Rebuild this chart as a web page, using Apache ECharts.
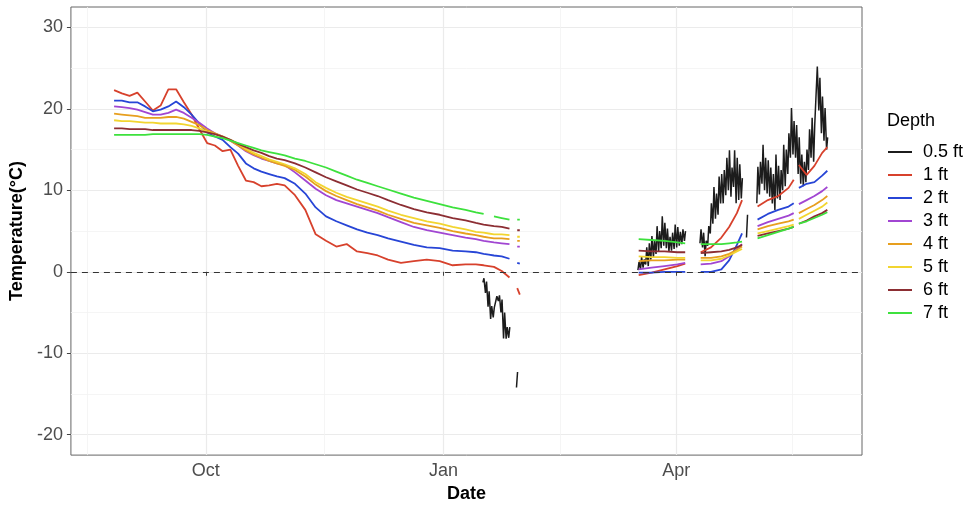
<!DOCTYPE html>
<html><head><meta charset="utf-8">
<script src="https://cdn.jsdelivr.net/npm/echarts@6/dist/echarts.min.js"></script>
<style>html,body{margin:0;padding:0;background:#fff}#c{width:969px;height:508px}</style>
</head><body><div id="c"></div>
<script>
// ---- data ----
const dates = [
 '2018-08-26','2018-08-29','2018-09-01','2018-09-04','2018-09-07','2018-09-10','2018-09-13','2018-09-16','2018-09-19','2018-09-22','2018-09-25','2018-09-28','2018-10-01','2018-10-04','2018-10-07','2018-10-10','2018-10-13','2018-10-16','2018-10-19','2018-10-22','2018-10-25','2018-10-28','2018-10-31',
 '2018-11-04','2018-11-08','2018-11-12','2018-11-16','2018-11-20','2018-11-24','2018-11-28','2018-12-02','2018-12-06','2018-12-10',
 '2018-12-15','2018-12-20','2018-12-25','2018-12-30','2019-01-04','2019-01-09',
 '2019-01-13','2019-01-16','2019-01-18','2019-01-20','2019-01-23','2019-01-26','2019-01-27','2019-01-29','2019-01-30',
 '2019-02-18',
 '2019-03-17','2019-03-22','2019-03-27','2019-04-01','2019-04-04',
 '2019-04-07',
 '2019-04-10','2019-04-14','2019-04-18','2019-04-21','2019-04-24','2019-04-26',
 '2019-04-29',
 '2019-05-02','2019-05-06','2019-05-10','2019-05-14','2019-05-16',
 '2019-05-17',
 '2019-05-18','2019-05-21','2019-05-24','2019-05-27','2019-05-29'
];
const depth1ft = [
 22.3,21.9,21.6,22.0,20.9,19.8,20.4,22.4,22.4,20.8,19.3,17.5,15.8,15.5,14.8,15.0,13.0,11.2,11.0,10.5,10.6,10.8,10.6,
 9.4,7.6,4.6,3.8,3.1,3.4,2.5,2.3,2.0,1.5,
 1.1,1.3,1.5,1.3,0.8,0.9,
 0.9,0.8,0.7,0.6,0.1,-0.7,null,-2.0,-2.8,
 null,
 -0.4,-0.1,0.3,0.7,1.0,
 null,
 2.4,3.0,4.2,5.5,7.2,8.8,
 null,
 8.0,8.8,9.3,10.3,11.3,
 null,
 13.1,11.9,13.0,14.6,15.3
];
const depth2ft = [
 21.0,21.0,20.8,20.8,20.3,19.7,19.9,20.3,20.9,20.2,19.3,18.2,17.1,16.6,16.2,15.3,14.5,13.3,12.7,12.3,12.0,11.7,11.5,
 10.8,9.6,7.9,6.8,6.2,5.7,5.2,4.8,4.5,4.1,
 3.7,3.3,3.0,2.9,2.6,2.5,
 2.4,2.2,2.1,2.0,1.9,1.6,null,1.1,1.0,
 null,
 -0.1,-0.1,0.0,0.0,0.0,
 null,
 0.0,0.0,0.3,1.4,3.3,4.7,
 null,
 6.4,7.1,7.6,8.0,8.4,
 null,
 10.3,10.8,11.0,11.8,12.4
];
const depth3ft = [
 20.3,20.2,20.1,19.9,19.6,19.3,19.3,19.5,19.9,19.5,18.9,18.3,17.6,17.0,16.6,16.1,15.5,14.8,14.3,13.9,13.6,13.3,13.1,
 12.2,11.2,10.2,9.4,8.8,8.4,8.0,7.6,7.2,6.7,
 6.1,5.5,5.1,4.8,4.5,4.2,
 4.0,3.8,3.7,3.6,3.5,3.4,null,3.1,3.1,
 null,
 0.3,0.5,0.7,0.9,1.1,
 null,
 0.9,1.0,1.3,1.9,2.8,3.4,
 null,
 5.6,6.1,6.5,6.9,7.2,
 null,
 8.3,8.8,9.3,9.9,10.4
];
const depth4ft = [
 19.4,19.3,19.2,19.1,18.9,18.9,18.9,19.0,19.0,18.8,18.4,18.0,17.4,17.0,16.6,16.1,15.5,14.9,14.4,14.0,13.6,13.3,13.0,
 12.5,11.7,10.7,9.9,9.3,8.8,8.3,7.9,7.5,7.0,
 6.5,6.0,5.7,5.4,5.0,4.7,
 4.5,4.3,4.2,4.1,4.1,4.0,null,3.8,3.8,
 null,
 1.3,1.4,1.4,1.5,1.5,
 null,
 1.7,1.7,1.9,2.2,2.7,3.1,
 null,
 5.2,5.6,5.9,6.2,6.4,
 null,
 7.2,7.7,8.2,8.8,9.3
];
const depth5ft = [
 18.6,18.5,18.5,18.4,18.3,18.3,18.2,18.2,18.2,18.1,17.9,17.6,17.2,16.9,16.6,16.2,15.7,15.1,14.6,14.2,13.8,13.5,13.2,
 12.7,12.0,11.0,10.3,9.7,9.2,8.8,8.4,8.0,7.5,
 7.0,6.6,6.2,5.9,5.5,5.2,
 4.9,4.8,4.7,4.6,4.6,4.5,null,4.3,4.3,
 null,
 1.9,1.8,1.8,1.7,1.7,
 null,
 1.4,1.4,1.6,2.0,2.5,2.8,
 null,
 4.7,5.0,5.3,5.6,5.8,
 null,
 6.5,7.0,7.5,8.0,8.5
];
const depth6ft = [
 17.6,17.6,17.5,17.5,17.5,17.4,17.4,17.4,17.4,17.4,17.4,17.3,17.1,16.9,16.6,16.2,15.7,15.3,14.9,14.6,14.2,13.9,13.7,
 13.3,12.8,12.2,11.6,11.1,10.6,10.1,9.7,9.3,8.8,
 8.2,7.7,7.3,7.0,6.6,6.3,
 6.0,5.8,5.7,5.6,5.5,5.3,null,5.1,5.1,
 null,
 2.6,2.5,2.5,2.4,2.4,
 null,
 2.3,2.4,2.5,2.7,3.0,3.3,
 null,
 4.4,4.7,5.0,5.3,5.5,
 null,
 5.9,6.3,6.8,7.2,7.6
];
const depth7ft = [
 16.8,16.8,16.8,16.8,16.8,16.9,16.9,16.9,16.9,16.9,16.9,16.9,16.8,16.6,16.4,16.1,15.8,15.5,15.2,14.9,14.7,14.5,14.3,
 13.9,13.6,13.2,12.8,12.3,11.8,11.3,10.9,10.5,10.1,
 9.6,9.1,8.7,8.3,7.9,7.6,
 7.3,7.1,null,6.8,6.6,6.4,null,6.4,6.4,
 null,
 4.0,3.9,3.8,3.6,3.5,
 null,
 3.4,3.4,3.4,3.5,3.6,3.7,
 null,
 4.1,4.5,4.9,5.3,5.5,
 null,
 5.9,6.2,6.6,7.0,7.3
];
// 0.5 ft: daily low / high (strong daily swing)
const blackDates = [
 '2019-01-16','2019-01-17','2019-01-18','2019-01-19','2019-01-20','2019-01-21','2019-01-22','2019-01-23','2019-01-24','2019-01-25','2019-01-26','2019-01-27',
 '2019-01-29','2019-01-31',
 '2019-03-17','2019-03-18','2019-03-19','2019-03-20','2019-03-21','2019-03-22','2019-03-23','2019-03-24','2019-03-25','2019-03-26','2019-03-27','2019-03-28','2019-03-29','2019-03-30','2019-03-31','2019-04-01','2019-04-02','2019-04-03','2019-04-04','2019-04-07',
 '2019-04-10','2019-04-11','2019-04-12','2019-04-13','2019-04-14','2019-04-15','2019-04-16','2019-04-17','2019-04-18','2019-04-19','2019-04-20','2019-04-21','2019-04-22','2019-04-23','2019-04-24','2019-04-25','2019-04-26','2019-04-27',
 '2019-04-28','2019-04-30',
 '2019-05-02','2019-05-03','2019-05-04','2019-05-05','2019-05-06','2019-05-07','2019-05-08','2019-05-09','2019-05-10','2019-05-11','2019-05-12','2019-05-13','2019-05-14','2019-05-15','2019-05-16','2019-05-17','2019-05-18','2019-05-19','2019-05-20','2019-05-21','2019-05-22','2019-05-23','2019-05-24','2019-05-25','2019-05-26','2019-05-27','2019-05-28','2019-05-29'
];
const blackLow = [
 -1.3,-2.6,-4.3,-5.8,-5.6,-4.6,-3.6,-5.0,-8.2,-8.2,-8.1,null,
 -14.2,null,
 0.2,0.3,0.5,0.9,0.7,1.5,1.8,2.2,2.5,2.9,3.2,2.9,2.5,2.6,2.8,3.0,3.2,3.4,3.8,null,
 3.5,3.0,1.9,3.2,4.7,5.9,6.5,7.0,8.4,8.4,9.4,10.0,9.2,10.4,8.4,8.8,9.0,null,
 4.2,null,
 8.4,9.5,10.8,10.0,9.6,9.2,8.4,7.6,9.0,8.8,10.0,10.5,12.0,14.0,14.4,14.0,12.0,10.8,10.5,11.0,12.5,14.0,13.5,18.0,19.8,17.0,16.1,15.0
];
const blackHigh = [
 -0.8,-1.2,-2.4,-4.2,-4.4,-3.0,-2.9,-3.4,-5.0,-6.8,-6.8,null,
 -12.3,null,
 1.2,1.8,1.5,3.0,3.5,4.4,3.8,5.6,5.0,6.8,6.0,5.3,4.3,4.8,5.8,5.5,4.9,5.2,5.0,null,
 5.2,4.8,3.8,5.6,8.4,10.4,9.6,11.7,12.0,12.5,14.0,14.9,12.8,14.9,14.0,13.2,11.5,null,
 7.0,null,
 12.9,13.5,15.6,14.0,13.7,12.8,12.0,14.4,13.0,12.5,15.6,15.0,17.0,20.1,18.5,18.0,16.5,14.4,13.5,15.0,17.5,18.9,18.0,25.2,23.8,21.5,20.1,16.5
];
const depthNames = ['0.5 ft','1 ft','2 ft','3 ft','4 ft','5 ft','6 ft','7 ft'];
const depthColors = ['#1c1c1c','#D7412C','#2745D6','#A146D2','#E79F1E','#F2D530','#8C2E33','#3DE13D'];
const yTicks = [-20,-10,0,10,20,30];
const yMinor = [-15,-5,5,15,25];
const xTickDates = ['2018-10-01','2019-01-01','2019-04-01'];
const xMinorDates = ['2018-08-16','2018-11-16','2019-02-15','2019-05-16'];
const monthNames = ['Jan','Feb','Mar','Apr','May','Jun','Jul','Aug','Sep','Oct','Nov','Dec'];

// ---- build ----
function ts(s, h) { const p = s.split('-').map(Number); return new Date(p[0], p[1]-1, p[2], h || 0).getTime(); }
const blackData = [];
blackDates.forEach((d, i) => {
  if (blackLow[i] == null) { blackData.push([ts(d, 12), null]); }
  else { blackData.push([ts(d, 5), blackLow[i]]); blackData.push([ts(d, 15), blackHigh[i]]); }
});
const depthArrays = [depth1ft, depth2ft, depth3ft, depth4ft, depth5ft, depth6ft, depth7ft];
const xMin = ts('2018-08-09', 19), xMax = ts('2019-06-11', 22);
const font = 'Liberation Sans, Arial, Helvetica, sans-serif';

const series = [{
  name: depthNames[0], type: 'line', data: blackData, showSymbol: false, symbol: 'none',
  lineStyle: { color: depthColors[0], width: 1.5 }, itemStyle: { color: depthColors[0] }, z: 2
}];
depthArrays.forEach((arr, k) => {
  series.push({
    name: depthNames[k+1], type: 'line', symbol: 'none', showSymbol: false,
    data: dates.map((d, i) => [ts(d, 12), arr[i]]),
    lineStyle: { color: depthColors[k+1], width: 1.8 }, itemStyle: { color: depthColors[k+1] }, z: 3 + k
  });
});
series[series.length - 1].markLine = {
  silent: true, symbol: 'none', label: { show: false },
  lineStyle: { color: '#333', type: [6, 5], width: 1 },
  data: [{ yAxis: 0 }]
};

const chart = echarts.init(document.getElementById('c'), null, { renderer: 'canvas' });
chart.setOption({
  animation: false,
  backgroundColor: '#fff',
  textStyle: { fontFamily: font },
  title: { text: 'Depth', left: 882, top: 107, textStyle: { fontSize: 18, fontWeight: 'normal', color: '#000', fontFamily: font } },
  legend: {
    orient: 'vertical', left: 883, top: 138, itemWidth: 24, itemHeight: 2, itemGap: 5,
    icon: 'rect', selectedMode: false, data: depthNames,
    textStyle: { fontSize: 18, color: '#000', fontFamily: font, padding: [0, 0, 0, 6] }
  },
  grid: { left: 70, right: 107, top: 7, bottom: 47, show: true, borderColor: '#666', borderWidth: 1, backgroundColor: '#fff' },
  xAxis: [{
    type: 'value', min: xMin, max: xMax,
    name: 'Date', nameLocation: 'middle', nameGap: 24,
    nameTextStyle: { fontSize: 18, fontWeight: 'bold', color: '#000', fontFamily: font },
    axisLine: { show: false },
    axisTick: { show: true, length: 4, lineStyle: { color: '#444' }, customValues: xTickDates.map(d => ts(d)) },
    axisLabel: { fontSize: 18, color: '#4D4D4D', margin: 7, fontFamily: font,
      customValues: xTickDates.map(d => ts(d)), formatter: v => monthNames[new Date(v).getMonth()] },
    splitLine: { show: true, lineStyle: { color: '#EBEBEB', width: 1.2 } }
  }, {
    type: 'value', min: xMin, max: xMax, position: 'top',
    axisLine: { show: false }, axisLabel: { show: false },
    axisTick: { show: false, customValues: xMinorDates.map(d => ts(d)) },
    splitLine: { show: true, lineStyle: { color: '#F3F3F3', width: 0.8 } }
  }],
  yAxis: [{
    type: 'value', min: -22.5, max: 32.5,
    name: 'Temperature(°C)', nameLocation: 'middle', nameGap: 41,
    nameTextStyle: { fontSize: 18, fontWeight: 'bold', color: '#000', fontFamily: font },
    axisLine: { show: false },
    axisTick: { show: true, length: 4, lineStyle: { color: '#444' }, customValues: yTicks },
    axisLabel: { fontSize: 18, color: '#4D4D4D', margin: 8, fontFamily: font, customValues: yTicks },
    splitLine: { show: true, lineStyle: { color: '#EBEBEB', width: 1.2 } }
  }, {
    type: 'value', min: -22.5, max: 32.5, position: 'right',
    axisLine: { show: false }, axisLabel: { show: false },
    axisTick: { show: false, customValues: yMinor },
    splitLine: { show: true, lineStyle: { color: '#F3F3F3', width: 0.8 } }
  }],
  series: series
});
</script></body></html>
